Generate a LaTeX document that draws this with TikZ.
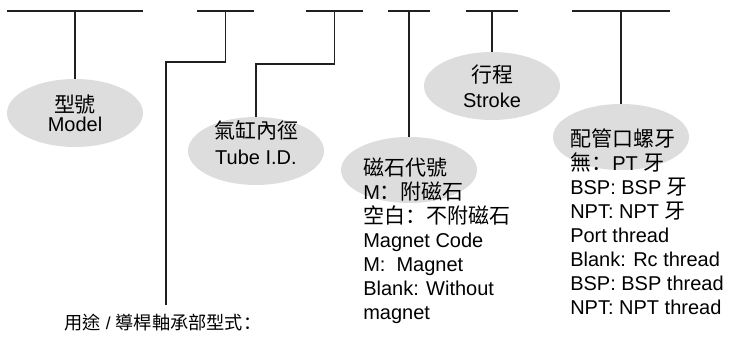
\documentclass[tikz,border=0pt]{standalone}
\usepackage{fontspec}
\setmainfont{Liberation Sans}
\newfontfamily\cjk[Scale=1.05]{Noto Sans CJK TC}
\newfontfamily\cjkcolon[Scale=1.05]{Noto Sans CJK SC}
\newcommand\fwcolon{{\cjkcolon ：}}
\usetikzlibrary{shapes.geometric}
\definecolor{ovalgray}{RGB}{221,221,221}
\definecolor{inkline}{RGB}{35,31,32}
\tikzset{
  oval/.style={ellipse,fill=ovalgray,minimum width=102pt,minimum height=51pt,
    inner sep=0pt,align=center,font=\fontsize{15}{19}\selectfont},
  codelist/.style={anchor=base west,align=left,inner sep=0pt,
    font=\fontsize{15}{18}\selectfont},
  codebar/.style={line width=1.3pt,draw=inkline}
}
\begin{document}
\begin{tikzpicture}[x=0.75pt,y=-0.75pt]
  \useasboundingbox (0,0) rectangle (733,338);
  \draw
    (75,113) node[oval,font=\fontsize{15}{14.5}\selectfont] (model){{\cjk 型號}\\Model}
    (256,151) node[oval,text height=20pt] (tube){{\cjk 氣缸內徑}\\Tube I.D.}
    (409,170) node[oval,minimum height=49.5pt] (magnet){}
    (492,86) node[oval] (stroke){{\cjk 行程}\\Stroke}
    (621,137) node[oval,minimum height=49.5pt] (port){};
  \node[codelist] (magnettext) at (363,320)
    {{\cjk 磁石代號}\\M\fwcolon{\cjk 附磁石}\\{\cjk 空白}\fwcolon{\cjk 不附磁石}\\Magnet Code\\M:~~Magnet\\Blank: Without\\magnet};
  \node[codelist] (porttext) at (570,315)
    {{\cjk 配管口螺牙}\\{\cjk 無}\fwcolon PT {\cjk 牙}\\BSP: BSP {\cjk 牙}\\NPT: NPT {\cjk 牙}\\Port thread\\Blank: Rc thread\\BSP: BSP thread\\NPT: NPT thread};
  \node[anchor=base,inner sep=0pt,font=\fontsize{13}{16}\selectfont] (usage) at (163,330)
    {{\cjk 用途} / {\cjk 導桿軸承部型式}\fwcolon};
  \coordinate (usageend) at (166,305);
  % code bars
  \begin{scope}[codebar]
    \draw (7,11) -- coordinate (s1) (143,11);
    \draw (197,11) -- coordinate (s2) (254,11);
    \draw (306,11) -- coordinate (s3) (363,11);
    \draw (388,11) -- coordinate (s4) (430,11);
    \draw (466,11) -- coordinate (s5) (518,11);
    \draw (572,11) -- coordinate (s6) (670,11);
    \draw (s1) to (model);
    \draw (s2) -- (s2 |- 0,62) -| (usageend);
    \draw (s3) -- (s3 |- 0,64) -| (tube);
    \draw (s4) to (magnet);
    \draw (s5) to (stroke);
    \draw (s6) to (port);
  \end{scope}
\end{tikzpicture}
\end{document}
